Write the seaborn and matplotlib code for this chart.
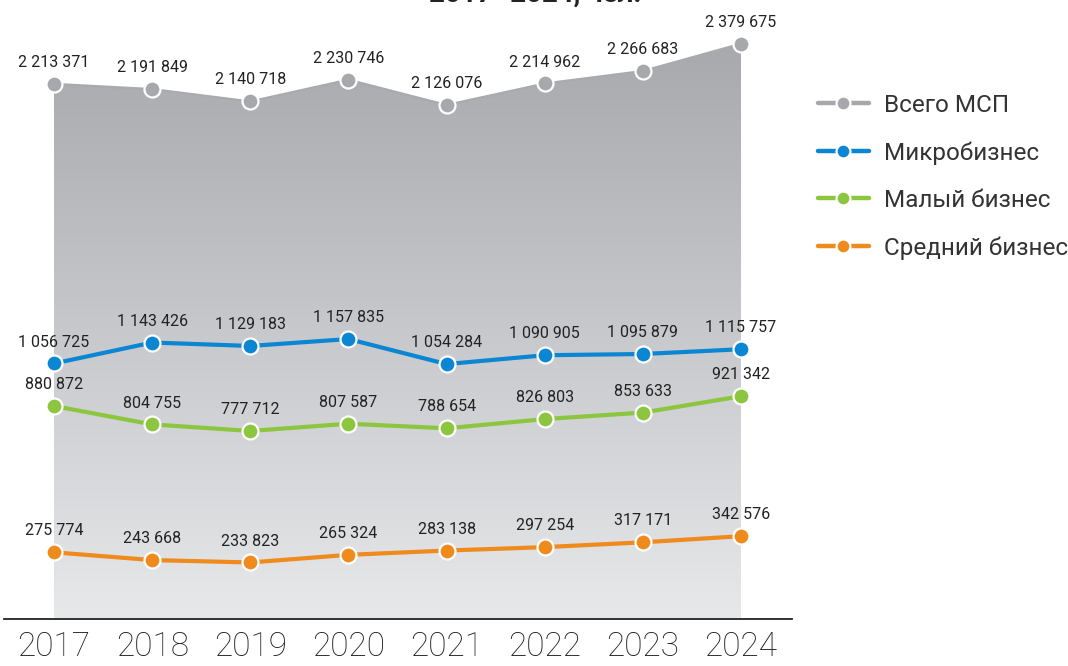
import numpy as np
import pandas as pd
import matplotlib
matplotlib.use("Agg")
import matplotlib.pyplot as plt
import seaborn as sns
from matplotlib.lines import Line2D

years = [2017, 2018, 2019, 2020, 2021, 2022, 2023, 2024]
total = [2213371, 2191849, 2140718, 2230746, 2126076, 2214962, 2266683, 2379675]
micro = [1056725, 1143426, 1129183, 1157835, 1054284, 1090905, 1095879, 1115757]
small = [880872, 804755, 777712, 807587, 788654, 826803, 853633, 921342]
medium = [275774, 243668, 233823, 265324, 283138, 297254, 317171, 342576]
series_names = ["Всего МСП", "Микробизнес", "Малый бизнес", "Средний бизнес"]
title_text = "2017–2024, чел."

colors = {"Всего МСП": "#a7a8ab", "Микробизнес": "#0a86d2",
          "Малый бизнес": "#8cc63f", "Средний бизнес": "#ef8a1d"}

sns.set_theme(style="white")
plt.rcParams['font.family'] = ['Roboto', 'DejaVu Sans']

W, H = 1068, 666
fig = plt.figure(figsize=(W / 100, H / 100), dpi=100)
ax = fig.add_axes([4 / W, (H - 619) / H, (792 - 4) / W, 619 / H])

df = pd.DataFrame({
    "year": years * 4,
    "value": total + micro + small + medium,
    "series": sum([[n] * len(years) for n in series_names], []),
})

# gradient area for total
poly = ax.fill_between(years, 0, total, color="none", lw=0, zorder=1)
ymax_top = 2560000
grad = np.linspace(0, 1, 256).reshape(-1, 1)
top_c = np.array([168, 169, 173]) / 255
bot_c = np.array([231, 232, 234]) / 255
img = top_c[None, None, :] * (grad[..., None]) + bot_c[None, None, :] * (1 - grad[..., None])
im = ax.imshow(img, extent=[years[0], years[-1], 0, max(total)], origin="lower",
               aspect="auto", zorder=1)
path = poly.get_paths()[0]
im.set_clip_path(path, transform=ax.transData)

# lines
lines_df = df[df.series != "Всего МСП"]
sns.lineplot(data=lines_df, x="year", y="value", hue="series", palette=colors,
             linewidth=3.0, ax=ax, legend=False, zorder=3, marker="o",
             markersize=11.5, markeredgecolor="white", markeredgewidth=1.6)
tot_df = df[df.series == "Всего МСП"]
sns.lineplot(data=tot_df, x="year", y="value", color="#a9aaae", linewidth=1.5,
             ax=ax, legend=False, zorder=2, marker="o", markersize=11.5,
             markerfacecolor=colors["Всего МСП"], markeredgecolor="white",
             markeredgewidth=1.6)

def fmt(v):
    return f"{v:,}".replace(",", " ")

for vals in [total, micro, small, medium]:
    for x, v in zip(years, vals):
        ax.annotate(fmt(v), (x, v), xytext=(0, 10), textcoords="offset points",
                    ha="center", va="bottom", fontsize=11.5, color="#222222",
                    zorder=5)

ax.set_xlim(years[0] - 50 / 98.14, years[-1] + 51 / 98.14)
ax.set_ylim(0, ymax_top)
ax.set_xticks(years)
ax.set_xticklabels([str(y) for y in years], fontsize=24, color="#1a1a1a",
                   fontweight="light")
ax.tick_params(axis="x", length=0, pad=9)
ax.set_yticks([])
ax.set_xlabel("")
ax.set_ylabel("")
for s in ["top", "right", "left"]:
    ax.spines[s].set_visible(False)
ax.spines["bottom"].set_color("#222222")
ax.spines["bottom"].set_linewidth(1.3)
ax.set_facecolor("none")

# legend
handles = [Line2D([0], [0], color=colors[n], lw=3.2, marker="o", markersize=10,
                  markerfacecolor=colors[n], markeredgecolor="white",
                  markeredgewidth=1.6) for n in series_names]
leg = fig.legend(handles, series_names, loc="upper left",
                 bbox_to_anchor=(796 / W, 1 - 72 / H), frameon=False,
                 handlelength=2.1, handletextpad=0.6,
                 labelspacing=1.0, labelcolor="#333333",
                 prop={"size": 17.5})

fig.text(535 / W, 1 - 2 / H, title_text, ha="center", va="baseline",
         fontsize=20, fontweight="bold", color="#222222")

fig.savefig("out.png", dpi=100)
